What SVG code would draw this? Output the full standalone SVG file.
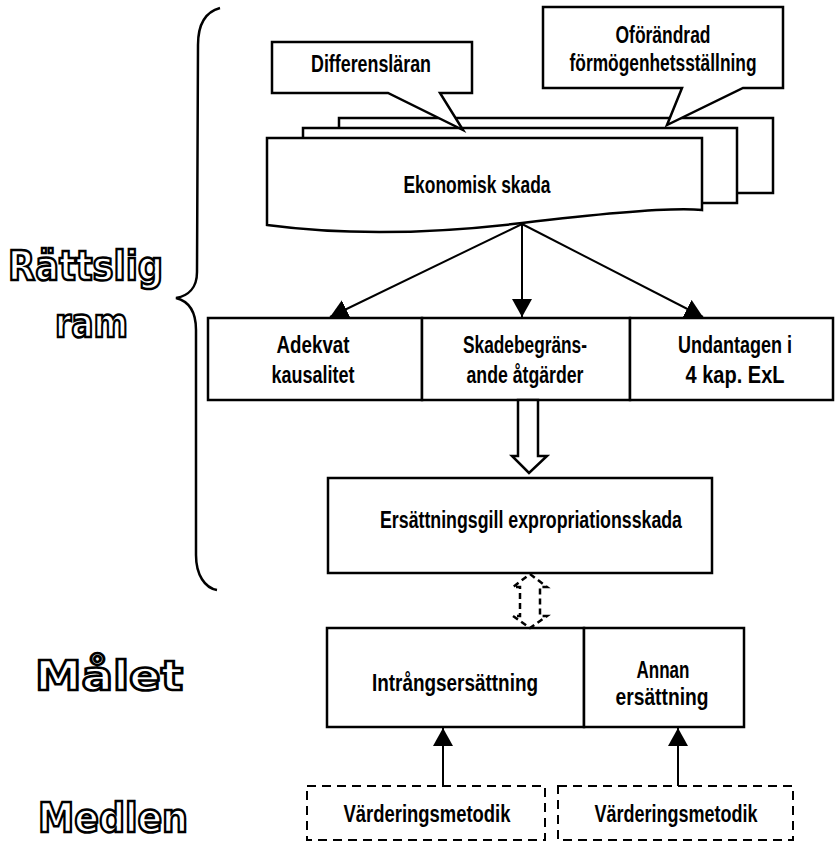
<svg xmlns="http://www.w3.org/2000/svg" width="836" height="845" viewBox="0 0 836 845">
  <style>
    .box { fill: #fff; stroke: #000; stroke-width: 2.5; }
    .dbox { fill: #fff; stroke: #000; stroke-width: 2; stroke-dasharray: 9 6; }
    .lbl { font-family: "Liberation Sans Narrow", "Liberation Sans", Arial, sans-serif; font-weight: bold; font-size: 23px; text-anchor: middle; fill: #000; }
    .big { font-family: "DejaVu Sans", "Liberation Sans", sans-serif; font-weight: bold; font-size: 40px; fill: #fff; stroke: #000; stroke-width: 2.5; }
    .conn { fill: none; stroke: #000; stroke-width: 2; }
    .brace { fill: none; stroke: #000; stroke-width: 2.5; }
  </style>
  <defs>
    <marker id="tri" viewBox="0 0 18 20" refX="18" refY="10" markerWidth="18" markerHeight="20" markerUnits="userSpaceOnUse" orient="auto">
      <path d="M0,0 L18,10 L0,20 Z" fill="#000"/>
    </marker>
  </defs>

  <!-- side headings -->
  <g id="headings">
    <text class="big" x="8" y="280" textLength="155" lengthAdjust="spacingAndGlyphs">Rättslig</text>
    <text class="big" x="55" y="337" textLength="73" lengthAdjust="spacingAndGlyphs">ram</text>
    <text class="big" x="35" y="690" textLength="148" lengthAdjust="spacingAndGlyphs">Målet</text>
    <text class="big" x="38" y="832" textLength="150" lengthAdjust="spacingAndGlyphs">Medlen</text>
  </g>

  <!-- curly brace grouping the legal framework -->
  <path id="brace" class="brace" d="M220,8 C205,12 198,25 198,45 L197,272 C197,288 188,296 176,298 C188,301 196,310 196,330 L196,555 C196,575 205,588 217,590"/>

  <!-- stacked damage sheets -->
  <g id="ekonomisk-skada">
    <rect class="box" x="339" y="118" width="434" height="75"/>
    <rect class="box" x="303" y="128" width="434" height="75"/>
    <path class="box" d="M267,138 H702 V210 Q664,206 522,223 Q380,240 267,225 Z"/>
    <text class="lbl" x="477" y="193" textLength="147" lengthAdjust="spacingAndGlyphs">Ekonomisk skada</text>
  </g>

  <!-- callouts -->
  <g id="differenslaran">
    <path class="box" d="M272,42 H472 V93 H440 L463,130 L388,93 H272 Z"/>
    <text class="lbl" x="371" y="72" textLength="120" lengthAdjust="spacingAndGlyphs">Differensläran</text>
  </g>
  <g id="oforandrad">
    <path class="box" d="M543,7 H783 V88 H743 L667,125 L682,88 H543 Z"/>
    <text class="lbl" x="663" y="43" textLength="95" lengthAdjust="spacingAndGlyphs">Oförändrad</text>
    <text class="lbl" x="663" y="71" textLength="187" lengthAdjust="spacingAndGlyphs">förmögenhetsställning</text>
  </g>

  <!-- three limiting criteria -->
  <g id="adekvat">
    <rect class="box" x="208" y="318" width="214" height="82"/>
    <text class="lbl" x="313" y="353" textLength="73" lengthAdjust="spacingAndGlyphs">Adekvat</text>
    <text class="lbl" x="313" y="383" textLength="83" lengthAdjust="spacingAndGlyphs">kausalitet</text>
  </g>
  <g id="skadebegransande">
    <rect class="box" x="422" y="318" width="208" height="82"/>
    <text class="lbl" x="525" y="353" textLength="124" lengthAdjust="spacingAndGlyphs">Skadebegräns-</text>
    <text class="lbl" x="525" y="383" textLength="117" lengthAdjust="spacingAndGlyphs">ande åtgärder</text>
  </g>
  <g id="undantagen">
    <rect class="box" x="630" y="318" width="203" height="82"/>
    <text class="lbl" x="735" y="353" textLength="114" lengthAdjust="spacingAndGlyphs">Undantagen i</text>
    <text class="lbl" x="735" y="383" textLength="99" lengthAdjust="spacingAndGlyphs">4 kap. ExL</text>
  </g>

  <!-- compensable damage -->
  <g id="ersattningsgill">
    <rect class="box" x="328" y="478" width="384" height="95"/>
    <text class="lbl" x="531" y="528" textLength="302" lengthAdjust="spacingAndGlyphs">Ersättningsgill expropriationsskada</text>
  </g>

  <!-- the goal -->
  <g id="intrangsersattning">
    <rect class="box" x="327" y="628" width="257" height="99"/>
    <text class="lbl" x="455" y="691" textLength="166" lengthAdjust="spacingAndGlyphs">Intrångsersättning</text>
  </g>
  <g id="annan-ersattning">
    <rect class="box" x="584" y="628" width="160" height="99"/>
    <text class="lbl" x="663" y="678" textLength="53" lengthAdjust="spacingAndGlyphs">Annan</text>
    <text class="lbl" x="662" y="705" textLength="93" lengthAdjust="spacingAndGlyphs">ersättning</text>
  </g>

  <!-- the means -->
  <g id="vardering-1">
    <rect class="dbox" x="307" y="786" width="238" height="54"/>
    <text class="lbl" x="427" y="822" textLength="167" lengthAdjust="spacingAndGlyphs">Värderingsmetodik</text>
  </g>
  <g id="vardering-2">
    <rect class="dbox" x="558" y="786" width="235" height="54"/>
    <text class="lbl" x="676" y="822" textLength="163" lengthAdjust="spacingAndGlyphs">Värderingsmetodik</text>
  </g>

  <!-- connectors -->
  <g id="connectors">
    <line class="conn" x1="522" y1="224" x2="330" y2="317" marker-end="url(#tri)"/>
    <line class="conn" x1="522" y1="224" x2="522" y2="317" marker-end="url(#tri)"/>
    <line class="conn" x1="522" y1="224" x2="703" y2="317" marker-end="url(#tri)"/>
    <!-- hollow block arrow -->
    <path class="box" d="M518,400 H538 V456 H547 L529,473 L512,456 H518 Z"/>
    <!-- dashed two-way block arrow -->
    <path fill="none" stroke="#000" stroke-width="2.5" stroke-dasharray="6 4" d="M530,574 L547,587 H540 V616 H547 L530,628 L513,616 H520 V587 H513 Z"/>
    <line class="conn" x1="443" y1="786" x2="443" y2="728" marker-end="url(#tri)"/>
    <line class="conn" x1="678" y1="786" x2="678" y2="728" marker-end="url(#tri)"/>
  </g>
</svg>
